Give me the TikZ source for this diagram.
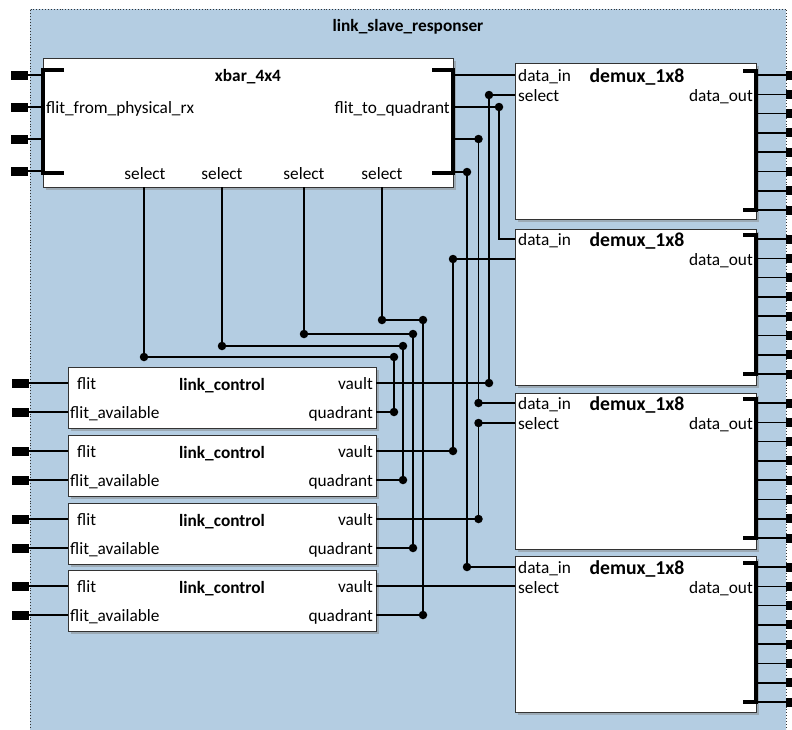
\documentclass[tikz,border=0pt]{standalone}
\usepackage{fontspec}
\setmainfont{Carlito}
\usetikzlibrary{shadows}
\definecolor{bgb}{RGB}{180,205,226}
\newcommand\fsn{\fontsize{17.3}{20}\selectfont}
\newcommand\fsd{\fontsize{19.7}{22}\selectfont\bfseries}
\begin{document}
\begin{tikzpicture}[x=1pt,y=-1pt,
  wire/.style={line width=1.5pt},
  bus/.style={line width=3.6pt},
  blk/.style={draw=black!80, line width=1.1pt, fill=white, inner sep=0pt, anchor=north west,
    drop shadow={shadow xshift=2.5pt, shadow yshift=-2.5pt, opacity=0.45}},
  pinn/.style={fill=black, draw=none, inner sep=0pt, minimum width=17pt, minimum height=9pt},
  pinr/.style={fill=black, draw=none, inner sep=0pt, minimum width=12pt, minimum height=9pt},
  jd/.style={circle, fill=black, inner sep=0pt, minimum size=8.5pt},
  tw/.style={inner sep=0pt, anchor=base west, font=\fsn},
  te/.style={inner sep=0pt, anchor=base east, font=\fsn},
  tc/.style={inner sep=0pt, anchor=base, font=\fsn}]
\useasboundingbox (0,0) rectangle (792,729);
% container
\fill[bgb] (30,9) rectangle (786,745);
\draw[dotted, line width=0.9pt, black!80] (30,745) -- (30,9) -- (786,9) -- (786,745);
\node[tc, font=\fsn\bfseries] (title) at (408,31) {link\_slave\_responser};

% xbar
\node[blk, minimum width=410pt, minimum height=129pt] (xbar) at (43,58) {};
\node[tc, font=\fsn\bfseries] (xbart) at (248,81) {xbar\_4x4};
\node[tw] (xbl) at (46,113) {flit\_from\_physical\_rx};
\node[te] (xbr) at (450,113) {flit\_to\_quadrant};
\foreach \x [count=\i] in {145,222,304,382} \node[tc] (xsl\i) at (\x,179) {select};
\draw[bus] (64,70) -- (43,70) -- (43,173) -- (64,173);
\draw[bus] (432,70) -- (453,70) -- (453,173) -- (432,173);
\foreach \y [count=\i] in {75,107,139,171} {
  \node[pinn] (xp\i) at (19.5,\y) {};
  \draw[wire] (xp\i.east) -- (xp\i.east -| xbar.west);
}
\coordinate (xo1) at (453,75);
\coordinate (xo2) at (453,107);
\coordinate (xo3) at (453,139);
\coordinate (xo4) at (453,172);
\foreach \x [count=\i] in {144,222,304,382} \coordinate (xs\i) at (\x,187);

% link_control blocks
\foreach \t [count=\i] in {367,435,503,570} {
  \node[blk, minimum width=308pt, minimum height=61pt] (lc\i) at (68,\t) {};
  \node[tw] (lcf\i) at (77,\t+22) {flit};
  \node[tw] (lca\i) at (70,\t+51) {flit\_available};
  \node[tc, font=\fsn\bfseries] (lct\i) at (222,\t+23) {link\_control};
  \node[te] (lcv\i) at (373,\t+22) {vault};
  \node[te] (lcq\i) at (373,\t+51) {quadrant};
  \node[pinn] (lpa\i) at (20.5,\t+16) {};
  \node[pinn] (lpb\i) at (20.5,\t+45) {};
  \draw[wire] (lpa\i.east) -- (lpa\i.east -| lc\i.west);
  \draw[wire] (lpb\i.east) -- (lpb\i.east -| lc\i.west);
  \coordinate (lv\i) at (376,\t+16);
  \coordinate (lq\i) at (376,\t+45);
}

% demux blocks
\foreach \t/\f [count=\i] in {63/75, 229/239, 393/403, 556/567} {
  \node[blk, minimum width=241pt, minimum height=156pt] (dm\i) at (515,\t) {};
  \node[tc, font=\fsd] (dmt\i) at (637,\f+7) {demux\_1x8};
  \node[tw] (dmi\i) at (518,\f+6) {data\_in};
  \node[te] (dmo\i) at (753,\f+26) {data\_out};
  \draw[bus] (743,\f-4) -- (756,\f-4) -- (756,\f+135) -- (743,\f+135);
  \coordinate (din\i) at (515,\f);
  \coordinate (dsel\i) at (515,\f+20);
  \foreach \k in {0,...,7} {
    \node[pinr] (rp\i\k) at (792,\f+\k*19.3) {};
    \draw[wire] (756,\f+\k*19.3) -- (rp\i\k.west);
  }
}
\node[tw] (dms1) at (518,101) {select};
\node[tw] (dms3) at (518,429) {select};
\node[tw] (dms4) at (518,593) {select};

% junction dots
\node[jd] (ja) at (499,107) {};
\node[jd] (jb1) at (478.5,139) {};
\node[jd] (jb2) at (478.5,403) {};
\node[jd] (jc1) at (467,172) {};
\node[jd] (jc2) at (467,567) {};
\node[jd] (jd1) at (489,95) {};
\node[jd] (jd2) at (489,383) {};
\node[jd] (je1) at (453,259) {};
\node[jd] (je2) at (453,451) {};
\node[jd] (jf1) at (478.5,423) {};
\node[jd] (jf2) at (478.5,519) {};
\node[jd] (s1a) at (144,357) {};
\node[jd] (s1b) at (394,357) {};
\node[jd] (s1c) at (394,412) {};
\node[jd] (s2a) at (222,346) {};
\node[jd] (s2b) at (403,346) {};
\node[jd] (s2c) at (403,480) {};
\node[jd] (s3a) at (304,334) {};
\node[jd] (s3b) at (413,334) {};
\node[jd] (s3c) at (413,548) {};
\node[jd] (s4a) at (382,320) {};
\node[jd] (s4b) at (423,320) {};
\node[jd] (s4c) at (423,615) {};

% wires
\draw[wire] (xo1) -- (din1);
\draw[wire] (xo2) -- (ja.center) |- (din2);
\draw[wire] (xo3) -- (jb1.center) -- (jb2.center) -- (din3);
\draw[wire] (xo4) -- (jc1.center) -- (jc2.center) -- (din4);
\draw[wire] (dsel1) -- (jd1.center) -- (jd2.center) -- (lv1);
\draw[wire] (dsel2) -- (je1.center) -- (je2.center) -- (lv2);
\draw[wire] (dsel3) -- (jf1.center) -- (jf2.center) -- (lv3);
\draw[wire] (lv4) -- (lv4 -| dsel4);
\draw[wire] (xs1) -- (s1a.center) -- (s1b.center) -- (s1c.center) -- (lq1);
\draw[wire] (xs2) -- (s2a.center) -- (s2b.center) -- (s2c.center) -- (lq2);
\draw[wire] (xs3) -- (s3a.center) -- (s3b.center) -- (s3c.center) -- (lq3);
\draw[wire] (xs4) -- (s4a.center) -- (s4b.center) -- (s4c.center) -- (lq4);
\end{tikzpicture}
\end{document}
